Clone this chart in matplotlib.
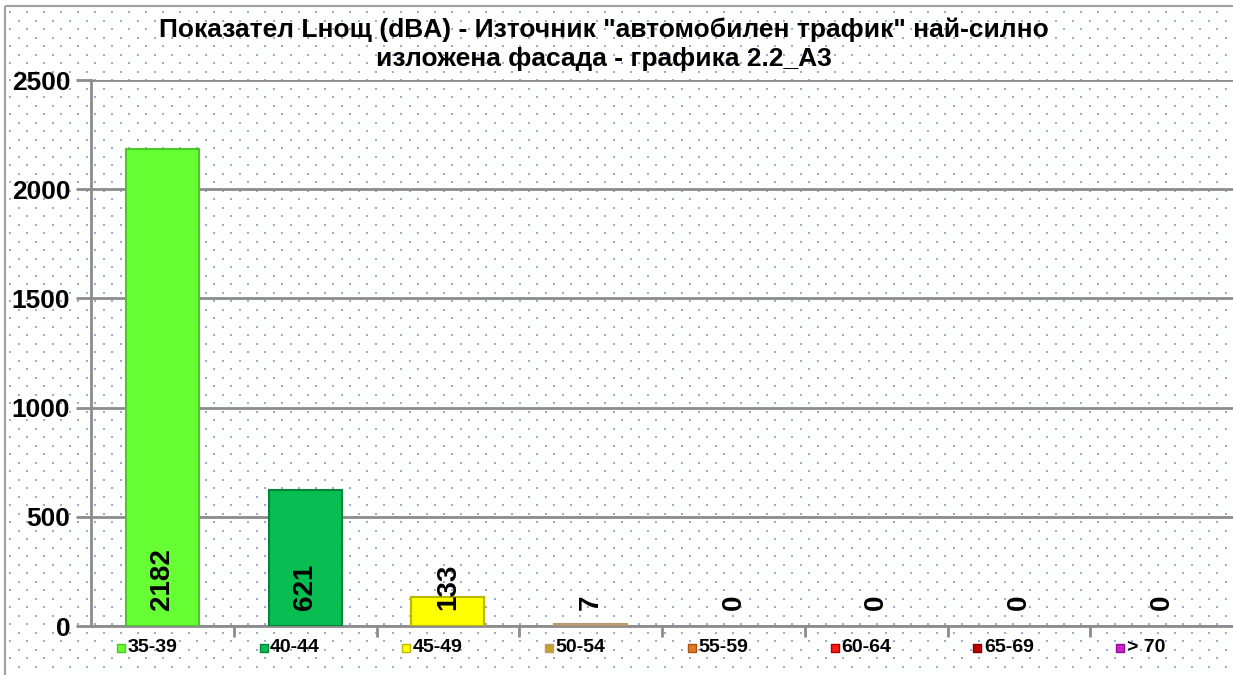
import numpy as np
import matplotlib
matplotlib.use("Agg")
import matplotlib.pyplot as plt
from matplotlib.patches import Rectangle

plt.rcParams['font.family'] = ['Liberation Sans', 'DejaVu Sans']

# data
categories = ["35-39", "40-44", "45-49", "50-54", "55-59", "60-64", "65-69", "> 70"]
counts = [2182, 621, 133, 7, 0, 0, 0, 0]
bar_colors = ["#66FF33", "#08BE52", "#FFFF00", "#C9A227", "#E07A26", "#FF1A1A", "#C00000", "#CC22CC"]
edge_colors = ["#4CC826", "#04863A", "#B8B800", "#B89A70", "#A85510", "#B00000", "#800000", "#901090"]
yticks = [0, 500, 1000, 1500, 2000, 2500]
title = 'Показател Lнощ (dBA) - Източник "автомобилен трафик" най-силно\nизложена фасада - графика 2.2_А3'

W, H = 1233, 675
fig = plt.figure(figsize=(W / 100, H / 100), dpi=100)

# dotted background over the whole chart area
bg = fig.add_axes([0, 0, 1, 1], zorder=0)
bg.set_xlim(0, W)
bg.set_ylim(H, 0)
bg.axis('off')
xs, ys = [], []
for r, yy in enumerate(np.arange(12, H, 8.5)):
    off = 0 if r % 2 == 0 else 8.5
    for xx in np.arange(10 + off, W, 17):
        xs.append(xx)
        ys.append(yy)
bg.scatter(xs, ys, s=2.2, marker='s', color='#8FB0DD', linewidths=0)
bg.add_patch(Rectangle((5, 6), W + 10, H + 10, fill=False, edgecolor='#A0A0A0', lw=1.5))

ax = fig.add_axes([91 / W, 49 / H, (W - 91) / W, (626 - 80) / H], zorder=1)
ax.patch.set_alpha(0)

x = np.arange(len(categories))
lws = [1.5 if v > 0 else 0 for v in counts]
ax.bar(x, counts, width=0.51, color=bar_colors, edgecolor=edge_colors, linewidth=lws, zorder=3)

for xi, v in zip(x, counts):
    ax.text(xi, 75, str(v), rotation=90, ha='center', va='bottom',
            fontsize=20, fontweight='bold', color='black', zorder=4)

ax.set_xlim(-0.5, len(categories) - 0.5)
ax.set_ylim(0, 2500)
ax.set_yticks(yticks)
ax.set_yticklabels([str(t) for t in yticks], fontsize=19, fontweight='bold')
ax.yaxis.grid(True, color='#8C8C8C', linewidth=2, zorder=1)
ax.tick_params(axis='y', length=11, width=2, color='#8C8C8C', pad=4)
ax.set_xticks([])
ax.set_xticks(np.arange(0.5, len(categories) - 0.5, 1), minor=True)
ax.tick_params(axis='x', which='minor', length=8, width=2, color='#8C8C8C')
for side in ['top', 'right']:
    ax.spines[side].set_visible(False)
for side in ['left', 'bottom']:
    ax.spines[side].set_color('#8C8C8C')
    ax.spines[side].set_linewidth(2)

# legend entries sitting under each category
trans = ax.get_xaxis_transform()
for xi, cat, c, ec in zip(x, categories, bar_colors, edge_colors):
    ax.scatter([xi - 0.29], [-0.04], marker='s', s=36, color=c, edgecolors=ec,
               linewidths=1, transform=trans, clip_on=False, zorder=5)
    ax.text(xi - 0.245, -0.04, cat, transform=trans, ha='left', va='center',
            fontsize=14, fontweight='bold')

fig.text(604 / W, 1 - 44 / H, title, ha='center', va='center', fontsize=19,
         fontweight='bold', linespacing=1.25)

fig.savefig("out.png", dpi=100)
